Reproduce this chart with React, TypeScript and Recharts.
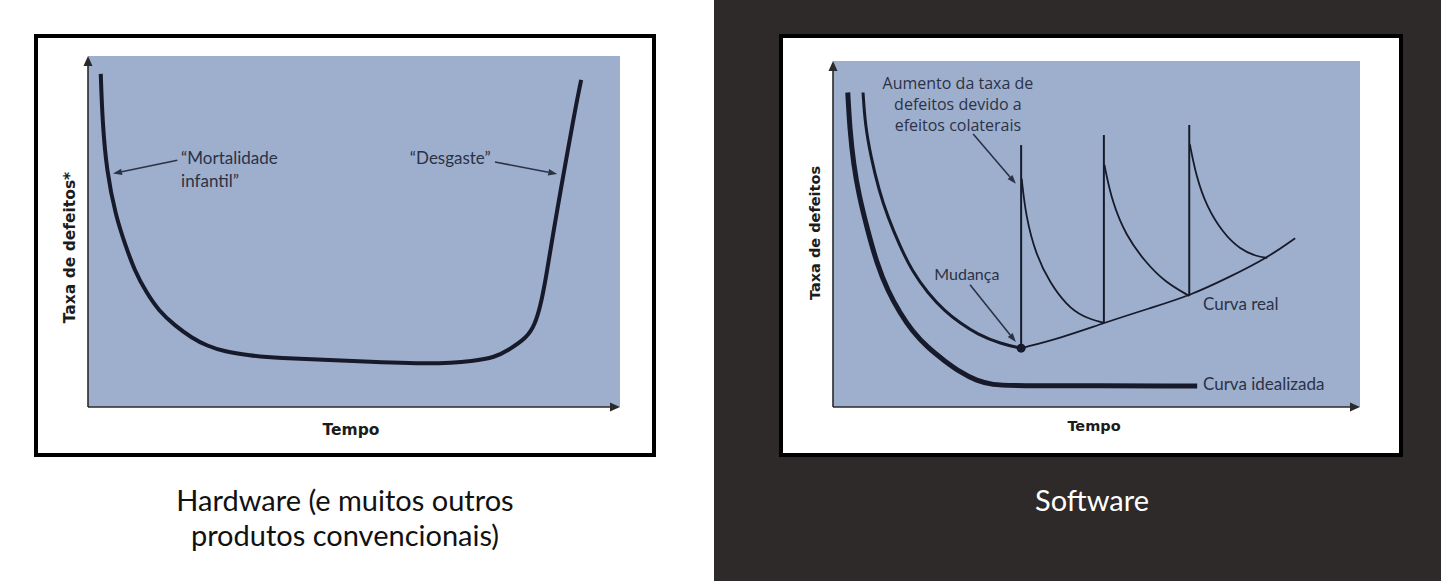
import React from "react";
import { CartesianGrid, Line, LineChart, ReferenceDot, ReferenceLine, XAxis, YAxis } from "recharts";

// valores, em % da largura / altura da área do gráfico
const hardwareCurve = [
  { x: 2.4, y: 94.9 }, { x: 2.7, y: 81.8 }, { x: 3.5, y: 67.2 }, { x: 5.2, y: 54.5 },
  { x: 7.0, y: 46.2 }, { x: 8.8, y: 38.7 }, { x: 10.9, y: 32.8 }, { x: 13.3, y: 27.4 },
  { x: 16.4, y: 23.1 }, { x: 19.5, y: 19.7 }, { x: 22.4, y: 17.4 }, { x: 25.6, y: 15.8 },
  { x: 30.5, y: 14.7 }, { x: 34.7, y: 14.0 }, { x: 49.9, y: 13.1 }, { x: 65.0, y: 12.1 },
  { x: 72.7, y: 13.1 }, { x: 76.5, y: 14.2 }, { x: 78.8, y: 16.0 }, { x: 82.5, y: 19.7 },
  { x: 84.0, y: 23.5 }, { x: 85.0, y: 28.5 }, { x: 86.0, y: 35.9 }, { x: 87.9, y: 53.8 },
  { x: 89.5, y: 67.2 }, { x: 91.4, y: 83.5 }, { x: 92.7, y: 93.2 },
];

const idealCurve = [
  { x: 2.8, y: 90.9 }, { x: 3.2, y: 80.1 }, { x: 3.9, y: 70.2 }, { x: 4.9, y: 61.3 },
  { x: 6.6, y: 50.9 }, { x: 8.3, y: 41.6 }, { x: 10.4, y: 33.5 }, { x: 12.7, y: 27.2 },
  { x: 15.0, y: 22.0 }, { x: 18.0, y: 17.1 }, { x: 21.2, y: 13.3 }, { x: 24.1, y: 10.1 },
  { x: 27.3, y: 7.5 }, { x: 30.4, y: 6.4 }, { x: 33.6, y: 6.1 }, { x: 69.1, y: 6.1 },
];

const realStart = [
  { x: 5.7, y: 90.9 }, { x: 6.1, y: 81.5 }, { x: 7.2, y: 72.3 }, { x: 8.7, y: 62.7 },
  { x: 10.4, y: 54.9 }, { x: 12.7, y: 46.5 }, { x: 15.0, y: 39.3 }, { x: 18.0, y: 32.9 },
  { x: 21.2, y: 27.7 }, { x: 24.1, y: 24.3 }, { x: 27.3, y: 21.1 }, { x: 31.9, y: 18.2 },
  { x: 35.7, y: 17.0 },
];

const realBase = [
  { x: 35.7, y: 17.0 }, { x: 43.1, y: 19.9 }, { x: 51.4, y: 24.3 }, { x: 60.2, y: 28.6 },
  { x: 67.6, y: 32.1 }, { x: 75.3, y: 37.6 }, { x: 82.4, y: 43.1 }, { x: 87.7, y: 48.8 },
];

const spikes = [
  { x: 35.7, base: 17.0, top: 75.7 },
  { x: 51.4, base: 24.3, top: 78.6 },
  { x: 67.6, base: 32.1, top: 81.5 },
];

const decay1 = [
  { x: 35.8, y: 66.0 }, { x: 36.6, y: 55.0 }, { x: 38.5, y: 44.0 }, { x: 41.2, y: 35.8 },
  { x: 44.3, y: 29.5 }, { x: 47.4, y: 26.0 }, { x: 51.4, y: 24.3 },
];
const decay2 = [
  { x: 51.5, y: 70.0 }, { x: 52.9, y: 59.5 }, { x: 55.6, y: 49.5 }, { x: 59.2, y: 42.0 },
  { x: 63.0, y: 36.1 }, { x: 67.6, y: 32.1 },
];
const decay3 = [
  { x: 67.7, y: 76.0 }, { x: 68.9, y: 66.8 }, { x: 70.9, y: 57.9 }, { x: 74.0, y: 50.3 },
  { x: 77.2, y: 45.6 }, { x: 80.4, y: 43.5 }, { x: 82.4, y: 43.1 },
];

const changePoint = { x: 35.7, y: 17.0 };

const hwNotes = [
  { x: 17.5, y: 69.2, lines: ["\u201cMortalidade", "infantil\u201d"] },
  { x: 60.5, y: 69.2, lines: ["\u201cDesgaste\u201d"] },
];
const hwArrows = [
  { from: { x: 16.8, y: 70.3 }, to: { x: 4.7, y: 66.5 } },
  { from: { x: 76.5, y: 69.8 }, to: { x: 88.2, y: 66.4 } },
];

const swArrows = [
  { from: { x: 26.6, y: 78.9 }, to: { x: 34.7, y: 64.5 } },
  { from: { x: 26.0, y: 35.3 }, to: { x: 34.7, y: 18.8 } },
];

const captionHw = ["Hardware (e muitos outros", "produtos convencionais)"];
const captionSw = "Software";

const plotBlue = "#9eafcd";
const ink = "#161a2b";
const noteInk = "#2b3246";

function arrow(color: string, width: number, len: number, half: number) {
  return (p: any) => {
    const { x1, y1, x2, y2 } = p;
    const a = Math.atan2(y2 - y1, x2 - x1);
    const bx = x2 - len * Math.cos(a);
    const by = y2 - len * Math.sin(a);
    const px = half * Math.sin(a);
    const py = -half * Math.cos(a);
    return (
      <g>
        <line x1={x1} y1={y1} x2={bx} y2={by} stroke={color} strokeWidth={width} />
        <polygon points={`${x2},${y2} ${bx + px},${by + py} ${bx - px},${by - py}`} fill={color} />
      </g>
    );
  };
}

const axisArrow = arrow("#2a2a2a", 1.6, 10, 4.5);
const noteArrow = arrow(noteInk, 1.6, 9, 3.2);

function noteText(lines: string[], font: string, size: number, anchor: string, lh: number) {
  return (p: any) => (
    <text x={p.cx} y={p.cy} fill={noteInk} fontFamily={font} fontSize={size} textAnchor={anchor}>
      {lines.map((l, i) => (
        <tspan key={i} x={p.cx} dy={i === 0 ? 0 : lh}>
          {l}
        </tspan>
      ))}
    </text>
  );
}

const titleFont = "'DejaVu Sans', sans-serif";

function xTitle(text: string, dx: number, dy: number, size: number) {
  return (p: any) => {
    const v = p.viewBox;
    return (
      <text x={v.x + v.width / 2 + dx} y={v.y + dy} textAnchor="middle" fontFamily={titleFont}
        fontWeight="bold" fontSize={size} fill="#1c1c1c">
        {text}
      </text>
    );
  };
}

function yTitle(text: string, cx: number, dy: number, size: number) {
  return (p: any) => {
    const v = p.viewBox;
    const x = v.x + cx;
    const y = v.y + v.height / 2 + dy;
    return (
      <text x={x} y={y} transform={`rotate(-90 ${x} ${y})`} textAnchor="middle" dominantBaseline="central"
        fontFamily={titleFont} fontWeight="bold" fontSize={size} fill="#1c1c1c">
        {text}
      </text>
    );
  };
}

function HardwareChart() {
  return (
    <LineChart width={614} height={415} margin={{ top: 18, right: 32, bottom: 6, left: 0 }}>
      <CartesianGrid horizontal={false} vertical={false} fill={plotBlue} stroke="none" />
      <XAxis type="number" dataKey="x" domain={[0, 100]} tick={false} tickLine={false} axisLine={false}
        height={40} label={{ content: xTitle("Tempo", -3, 28, 15.5) }} />
      <YAxis type="number" dataKey="y" domain={[0, 100]} tick={false} tickLine={false} axisLine={false}
        width={50} label={{ content: yTitle("Taxa de defeitos*", 32, 16, 15.5) }} />
      <ReferenceLine segment={[{ x: 0, y: 0 }, { x: 100, y: 0 }]} shape={axisArrow} />
      <ReferenceLine segment={[{ x: 0, y: 0 }, { x: 0, y: 100 }]} shape={axisArrow} />
      <Line data={hardwareCurve} dataKey="y" type="basis" stroke={ink} strokeWidth={4} dot={false}
        isAnimationActive={false} />
      {hwArrows.map((a, i) => (
        <ReferenceLine key={i} segment={[a.from, a.to]} shape={noteArrow} />
      ))}
      {hwNotes.map((n, i) => (
        <ReferenceDot key={i} x={n.x} y={n.y} r={0}
          shape={noteText(n.lines, "Lato, sans-serif", 17, "start", 23)} />
      ))}
    </LineChart>
  );
}

function SoftwareChart() {
  return (
    <LineChart width={616} height={415} margin={{ top: 23, right: 39, bottom: 6, left: 0 }}>
      <CartesianGrid horizontal={false} vertical={false} fill={plotBlue} stroke="none" />
      <XAxis type="number" dataKey="x" domain={[0, 100]} tick={false} tickLine={false} axisLine={false}
        height={40} label={{ content: xTitle("Tempo", -2.5, 24, 14.5) }} />
      <YAxis type="number" dataKey="y" domain={[0, 100]} tick={false} tickLine={false} axisLine={false}
        width={50} label={{ content: yTitle("Taxa de defeitos", 32, -1, 14.5) }} />
      <ReferenceLine segment={[{ x: 0, y: 0 }, { x: 100, y: 0 }]} shape={axisArrow} />
      <ReferenceLine segment={[{ x: 0, y: 0 }, { x: 0, y: 100 }]} shape={axisArrow} />
      <Line data={idealCurve} dataKey="y" type="basis" stroke={ink} strokeWidth={5} dot={false}
        isAnimationActive={false} />
      <Line data={realStart} dataKey="y" type="basis" stroke={ink} strokeWidth={3} dot={false}
        isAnimationActive={false} />
      <Line data={realBase} dataKey="y" type="basis" stroke={ink} strokeWidth={1.8} dot={false}
        isAnimationActive={false} />
      {[decay1, decay2, decay3].map((d, i) => (
        <Line key={i} data={d} dataKey="y" type="basis" stroke={ink} strokeWidth={1.8} dot={false}
          isAnimationActive={false} />
      ))}
      {spikes.map((s, i) => (
        <ReferenceLine key={i} segment={[{ x: s.x, y: s.base }, { x: s.x, y: s.top }]} stroke={ink}
          strokeWidth={2} />
      ))}
      {swArrows.map((a, i) => (
        <ReferenceLine key={i} segment={[a.from, a.to]} shape={noteArrow} />
      ))}
      <ReferenceDot x={changePoint.x} y={changePoint.y} r={4.5} fill={ink} stroke="none" />
      <ReferenceDot x={23.7} y={91.9} r={0}
        shape={noteText(["Aumento da taxa de", "defeitos devido a", "efeitos colaterais"], "'Open Sans', sans-serif", 16, "middle", 21)} />
      <ReferenceDot x={25.4} y={36.7} r={0} shape={noteText(["Mudança"], "Lato, sans-serif", 16, "middle", 0)} />
      <ReferenceDot x={70.2} y={28.0} r={0} shape={noteText(["Curva real"], "Lato, sans-serif", 17, "start", 0)} />
      <ReferenceDot x={70.2} y={4.9} r={0} shape={noteText(["Curva idealizada"], "Lato, sans-serif", 17, "start", 0)} />
    </LineChart>
  );
}

const frame: React.CSSProperties = {
  position: "absolute",
  border: "4px solid #000",
  background: "#fff",
};

const caption: React.CSSProperties = {
  position: "absolute",
  fontFamily: "Lato, sans-serif",
  fontSize: 29,
  lineHeight: "35px",
  textAlign: "center",
};

export default function App() {
  return (
    <div style={{ position: "absolute", left: 0, top: 0, width: 1441, height: 581, background: "#fff", overflow: "hidden" }}>
      <div style={{ position: "absolute", left: 714, top: 0, width: 727, height: 581, background: "#2e2a29" }} />
      <div style={{ ...frame, left: 34, top: 34, width: 614, height: 415 }}>
        <HardwareChart />
      </div>
      <div style={{ ...frame, left: 779, top: 34, width: 616, height: 415 }}>
        <SoftwareChart />
      </div>
      <div style={{ ...caption, left: 0, top: 482, width: 690, color: "#111" }}>
        {captionHw.map((l, i) => (
          <div key={i}>{l}</div>
        ))}
      </div>
      <div style={{ ...caption, left: 942, top: 482, width: 300, color: "#fff" }}>{captionSw}</div>
    </div>
  );
}
